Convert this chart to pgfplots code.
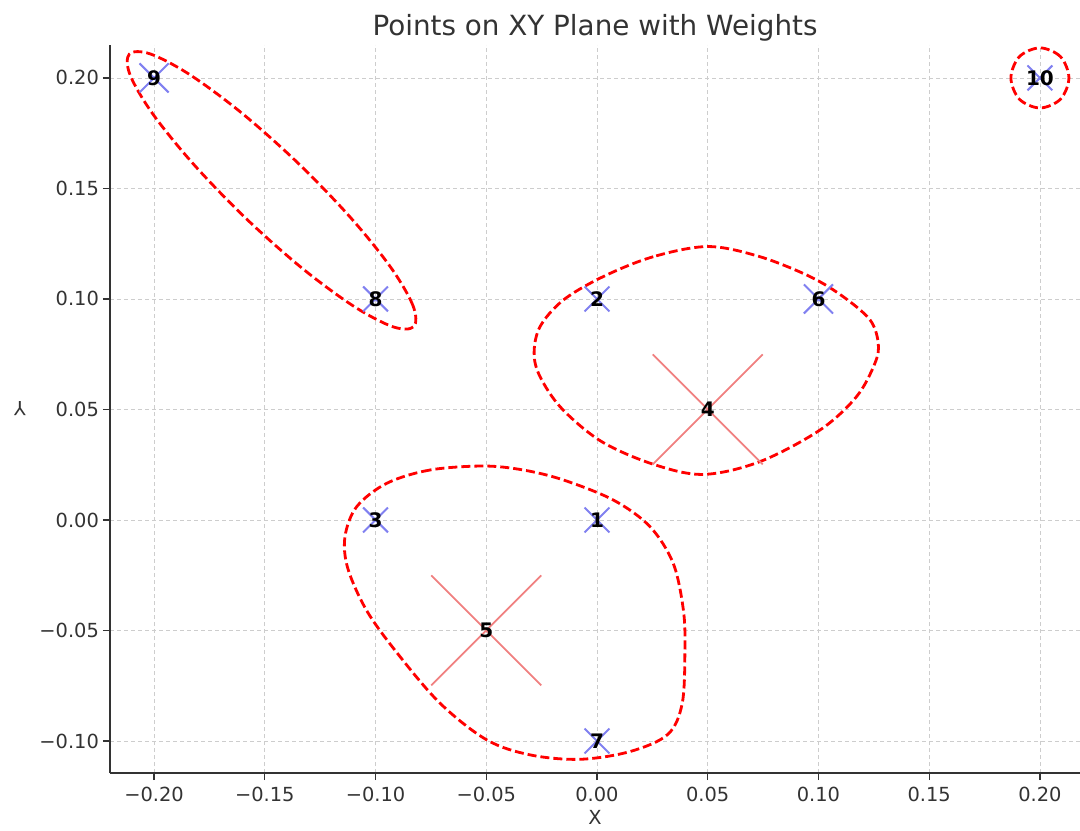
\documentclass[border=0pt]{standalone}
\usepackage{pgfplots}
\pgfplotsset{compat=1.18}
\usepackage{pgfplotstable}
\usepackage{fontspec}
\setmainfont{DejaVu Sans}
\definecolor{bluex}{RGB}{128,128,240}
\definecolor{redx}{RGB}{240,128,128}
\definecolor{txt}{RGB}{51,51,51}
\definecolor{gridc}{RGB}{205,205,205}

\pgfplotstableread{
x y
-0.08275 0.08747
-0.08307 0.09692
-0.09314 0.11430
-0.11142 0.13697
-0.13508 0.16154
-0.16054 0.18421
-0.18397 0.20154
-0.20172 0.21086
-0.21115 0.21081
-0.21084 0.20136
-0.20077 0.18398
-0.18248 0.16131
-0.15883 0.13674
-0.13336 0.11407
-0.10993 0.09674
-0.09219 0.08742
}\clusterA

\pgfplotstableread{
x y
0.0502 0.1237
0.0254 0.1191
0.0028 0.1101
-0.0152 0.0995
-0.0257 0.0875
-0.0284 0.0754
-0.0257 0.0648
-0.0160 0.0505
0.0020 0.0355
0.0254 0.0252
0.0480 0.0206
0.0736 0.0264
0.1007 0.0407
0.1172 0.0558
0.1255 0.0709
0.1270 0.0800
0.1233 0.0905
0.1112 0.1010
0.0962 0.1101
0.0736 0.1191
}\clusterB

\pgfplotstableread{
x y
-0.0513 0.0244
-0.0754 0.0226
-0.0949 0.0166
-0.1085 0.0060
-0.1138 -0.0076
-0.1125 -0.0220
-0.1040 -0.0410
-0.0904 -0.0600
-0.0709 -0.0829
-0.0498 -0.0995
-0.0302 -0.1063
-0.0077 -0.1083
0.0149 -0.1048
0.0320 -0.0970
0.0385 -0.0829
0.0397 -0.0588
0.0390 -0.0407
0.0344 -0.0196
0.0239 -0.0030
0.0074 0.0090
-0.0152 0.0181
-0.0333 0.0226
}\clusterC

\pgfplotstableread{
x y
0.2131 0.2000
0.2093 0.2096
0.2000 0.2136
0.1907 0.2096
0.1869 0.2000
0.1907 0.1904
0.2000 0.1864
0.2093 0.1904
}\clusterD

\pgfplotstableread{
x y label
0.00 0.00 1
0.00 0.10 2
-0.10 0.00 3
0.05 0.05 4
-0.05 -0.05 5
0.10 0.10 6
0.00 -0.10 7
-0.10 0.10 8
-0.20 0.20 9
0.20 0.20 10
}\points

\begin{document}
\begin{tikzpicture}
\path[use as bounding box] (-55pt,-28.5pt) rectangle (485pt,386.5pt);
\begin{axis}[
  scale only axis, width=485pt, height=364pt,
  xmin=-0.2199, xmax=0.2181, ymin=-0.1145, ymax=0.2149,
  axis x line*=bottom, axis y line*=left,
  axis line style={draw=txt, line width=0.9pt, -},
  xtick={-0.2,-0.15,-0.1,-0.05,0,0.05,0.1,0.15,0.2},
  xticklabels={−0.20,−0.15,−0.10,−0.05,0.00,0.05,0.10,0.15,0.20},
  ytick={-0.1,-0.05,0,0.05,0.1,0.15,0.2},
  yticklabels={−0.10,−0.05,0.00,0.05,0.10,0.15,0.20},
  tick label style={font=\fontsize{9.7}{11}\selectfont, text=txt},
  yticklabel style={xshift=1.5pt},
  tick align=outside, major tick length=3.5pt,
  tick style={draw=txt, line width=0.6pt},
  grid=major, grid style={draw=gridc, dash pattern=on 2pt off 1.5pt, line width=0.4pt},
  title={Points on XY Plane with Weights},
  title style={font=\fontsize{13.9}{16}\selectfont, text=txt, at={(axis description cs:0.5,1)}, anchor=base, yshift=-1.5pt},
  xlabel={X}, ylabel={Y},
  xlabel style={font=\fontsize{9.7}{11}\selectfont, text=txt, at={(axis description cs:0.5,0)}, anchor=center, yshift=-22pt},
  ylabel style={font=\fontsize{9.7}{11}\selectfont, text=txt, at={(axis description cs:-0.0928,0.5)}, anchor=center, rotate=90},
  clip=false,
]
% blue weight markers (small)
\addplot[only marks, mark=x, mark size=8.8pt, mark options={draw=bluex, line width=1pt}]
  coordinates {(0,0) (0,0.1) (-0.1,0) (0,-0.1) (-0.1,0.1) (0.2,0.2)};
% blue weight markers (medium)
\addplot[only marks, mark=x, mark size=10.3pt, mark options={draw=bluex, line width=1pt}]
  coordinates {(0.1,0.1) (-0.2,0.2)};
% red weight markers (large)
\addplot[only marks, mark=x, mark size=38.9pt, mark options={draw=redx, line width=0.9pt}]
  coordinates {(0.05,0.05) (-0.05,-0.05)};
% cluster outlines
\addplot[draw=red, line width=1.4pt, dash pattern=on 4.5pt off 2pt, smooth cycle, tension=0.55] table {\clusterA};
\addplot[draw=red, line width=1.4pt, dash pattern=on 4.5pt off 2pt, smooth cycle, tension=0.55] table {\clusterB};
\addplot[draw=red, line width=1.4pt, dash pattern=on 4.5pt off 2pt, smooth cycle, tension=0.55] table {\clusterC};
\addplot[draw=red, line width=1.4pt, dash pattern=on 4.5pt off 2pt, smooth cycle, tension=0.55] table {\clusterD};
% labels
\addplot[only marks, mark=none, nodes near coords, point meta=explicit symbolic,
  nodes near coords align=center,
  every node near coord/.append style={font=\bfseries\fontsize{10}{12}\selectfont, text=black, inner sep=0pt}]
  table[meta=label] {\points};
\end{axis}
\end{tikzpicture}
\end{document}
